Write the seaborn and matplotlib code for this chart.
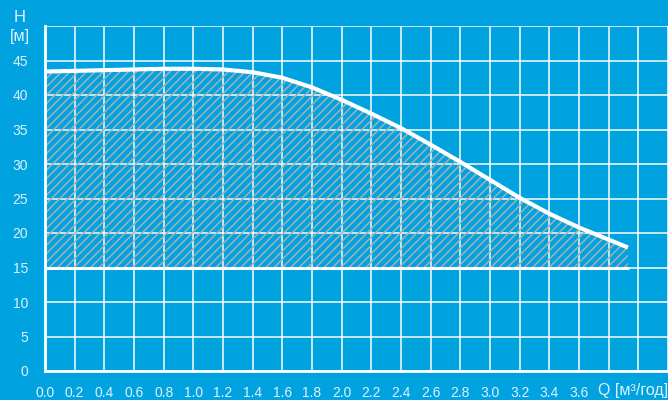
import numpy as np
import pandas as pd
import matplotlib
matplotlib.use("Agg")
import matplotlib.pyplot as plt
import seaborn as sns
from matplotlib.ticker import MultipleLocator

# --- DATEN ---
q_vals = [0.0, 0.2, 0.4, 0.6, 0.8, 1.0, 1.2, 1.4, 1.6, 1.8, 2.0,
          2.2, 2.4, 2.6, 2.8, 3.0, 3.2, 3.4, 3.6, 3.93]
h_vals = [43.4, 43.5, 43.6, 43.7, 43.8, 43.8, 43.7, 43.3, 42.5, 41.1, 39.3,
          37.3, 35.2, 32.8, 30.3, 27.7, 25.1, 22.8, 20.8, 17.9]
h_min = 15.0

BG = "#00a3e0"
LABEL = "#dff1fb"

sns.set_style("white", rc={"axes.facecolor": BG, "figure.facecolor": BG})
plt.rcParams["font.family"] = ["Liberation Sans", "DejaVu Sans"]
plt.rcParams["hatch.linewidth"] = 1.1

df = pd.DataFrame({"Q": q_vals, "H": h_vals})

fig = plt.figure(figsize=(6.68, 4.0), dpi=100)
ax = fig.add_axes([45 / 668, 29 / 400, 1 - 45 / 668, (371 - 26) / 400])

# schraffierte Flaeche zwischen 15 m und Kennlinie
ax.fill_between(df["Q"], h_min, df["H"], facecolor="none",
                edgecolor="#a9aeb3", hatch="////", linewidth=0, zorder=2)

sns.lineplot(data=df, x="Q", y="H", ax=ax, color="white", linewidth=3.0,
             zorder=4, solid_capstyle="butt")
ax.plot([df["Q"].iloc[0], df["Q"].iloc[-1]], [h_min, h_min],
        color="white", linewidth=2.2, zorder=4)

ax.set_xlim(0, 4.195)
ax.set_ylim(0, 50)

ax.xaxis.set_minor_locator(MultipleLocator(0.1))
ax.yaxis.set_minor_locator(MultipleLocator(2.5))

xt = np.arange(0, 4.21, 0.2)
ax.set_xticks(xt)
ax.set_xticklabels([f"{v:.1f}" if v < 3.7 else "" for v in xt])
yt = np.arange(0, 50.1, 5)
ax.set_yticks(yt)
ax.set_yticklabels([str(int(v)) if v < 47 else "" for v in yt])

ax.grid(True, which="major", color="white", linewidth=1.2, alpha=0.9)
ax.set_axisbelow(True)

for side in ["top", "right"]:
    ax.spines[side].set_visible(False)
for side in ["left", "bottom"]:
    ax.spines[side].set_color("white")
    ax.spines[side].set_linewidth(2)

ax.tick_params(axis="both", which="major", colors="white", width=1.5,
               labelcolor=LABEL, labelsize=10)
ax.tick_params(axis="y", which="major", length=7, pad=5)
ax.tick_params(axis="x", which="major", length=6, pad=5)
ax.tick_params(axis="both", which="minor", colors="white", width=1.5, length=4)

ax.set_xlabel("")
ax.set_ylabel("")

fig.text(20 / 668, 1 - 17 / 400, "H", color=LABEL, fontsize=12,
         ha="center", va="center")
fig.text(20 / 668, 1 - 36 / 400, "[м]", color=LABEL, fontsize=11.5,
         ha="center", va="center")
fig.text(598 / 668, 1 - 390 / 400, "Q [м³/год]", color=LABEL, fontsize=11.5,
         ha="left", va="center")

fig.savefig("out.png", dpi=100, facecolor=BG)
